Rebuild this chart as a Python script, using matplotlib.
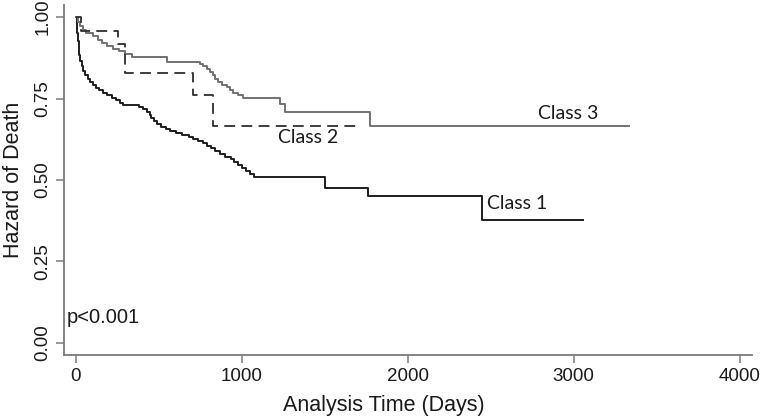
import numpy as np
import matplotlib
matplotlib.use("Agg")
from matplotlib import pyplot as plt

# Kaplan-Meier style step curves (days, proportion)
class1_t = [0, 4, 8, 12, 16, 20, 26, 34, 44, 56, 70, 85, 100, 120, 140, 165, 190, 215, 240, 265,
            285, 380, 405, 430, 445, 455, 470, 490, 515, 540, 565, 600, 640, 680, 705, 735, 765,
            790, 815, 840, 870, 900, 935, 955, 975, 1000, 1025, 1050, 1075, 1500, 1760, 2445, 3055]
class1_s = [1.000, 0.975, 0.950, 0.928, 0.905, 0.885, 0.865, 0.850, 0.835, 0.821, 0.810, 0.800,
            0.792, 0.783, 0.775, 0.768, 0.760, 0.752, 0.744, 0.737, 0.731, 0.725, 0.718, 0.710,
            0.700, 0.690, 0.680, 0.672, 0.664, 0.657, 0.650, 0.644, 0.638, 0.632, 0.626, 0.620,
            0.613, 0.605, 0.597, 0.589, 0.580, 0.572, 0.563, 0.554, 0.545, 0.536, 0.527, 0.518,
            0.509, 0.474, 0.452, 0.377, 0.377]

class2_t = [0, 30, 255, 295, 705, 825, 1695]
class2_s = [1.000, 0.957, 0.916, 0.827, 0.762, 0.666, 0.666]

class3_t = [0, 10, 25, 45, 60, 100, 130, 160, 190, 225, 260, 295, 335, 548, 745, 765, 790, 810,
            825, 840, 855, 880, 910, 930, 946, 975, 1005, 1230, 1260, 1775, 3330]
class3_s = [1.000, 0.985, 0.972, 0.960, 0.952, 0.943, 0.930, 0.920, 0.912, 0.903, 0.895, 0.888,
            0.877, 0.862, 0.857, 0.850, 0.842, 0.832, 0.822, 0.811, 0.800, 0.792, 0.784, 0.776,
            0.768, 0.760, 0.752, 0.733, 0.708, 0.665, 0.665]

xticks = [0, 1000, 2000, 3000, 4000]
yticks = [0.0, 0.25, 0.5, 0.75, 1.0]
ytick_labels = ["0.00", "0.25", "0.50", "0.75", "1.00"]

sans = ["Liberation Sans", "DejaVu Sans"]
plt.rcParams["font.family"] = sans

fig = plt.figure(figsize=(7.6, 4.18), dpi=100)
ax = fig.add_axes([0.0842, 0.1507, 0.9048, 0.8373])

ax.step(class1_t, class1_s, where="post", color="#1e1e1e", lw=1.4)
ax.step(class3_t, class3_s, where="post", color="#727272", lw=1.4)
ax.step(class2_t, class2_s, where="post", color="#2e2e2e", lw=1.3, dashes=(6, 3.5))

ax.set_xlim(-72, 4072)
ax.set_ylim(-0.037, 1.037)
ax.set_xticks(xticks)
ax.set_yticks(yticks)
ax.set_yticklabels(ytick_labels, rotation=90, va="center")

for side in ("top", "right"):
    ax.spines[side].set_visible(False)
for side in ("left", "bottom"):
    ax.spines[side].set_color("#7a7a7a")
    ax.spines[side].set_linewidth(1.3)
ax.tick_params(axis="both", colors="#7a7a7a", length=6, width=1.1, labelsize=13.5,
               labelcolor="#1a1a1a")
ax.tick_params(axis="y", pad=3)

ax.set_xlabel("Analysis Time (Days)", fontsize=15.5, color="#1a1a1a")
ax.set_ylabel("Hazard of Death", fontsize=15.5, color="#1a1a1a")
ax.xaxis.set_label_coords(0.465, -0.115)
ax.yaxis.set_label_coords(-0.058, 0.5)

lab_font = ["Lato", "DejaVu Sans"]
ax.text(2783, 0.704, "Class 3", fontsize=14, family=lab_font, va="center", color="#1a1a1a")
ax.text(1217, 0.631, "Class 2", fontsize=14, family=lab_font, va="center", color="#1a1a1a")
ax.text(2476, 0.429, "Class 1", fontsize=14, family=lab_font, va="center", color="#1a1a1a")
ax.text(-54, 0.077, "p<0.001", fontsize=14.5, va="center", color="#1a1a1a")

fig.savefig("out.png", dpi=100)
